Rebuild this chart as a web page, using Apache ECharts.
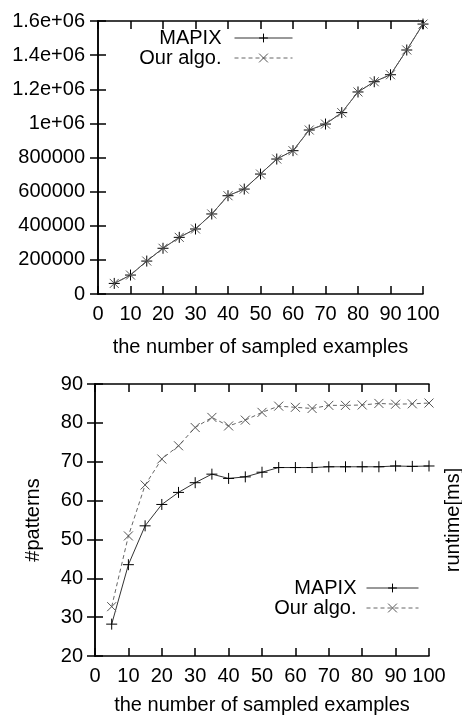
<!DOCTYPE html>
<html>
<head>
<meta charset="utf-8">
<script src="https://cdn.jsdelivr.net/npm/echarts@6/dist/echarts.min.js"></script>
<style>
html, body { margin: 0; padding: 0; background: #fff; }
#main { width: 462px; height: 715px; }
</style>
</head>
<body>
<div id="main"></div>
<script>
// sampled example counts (x axis)
var samples = [5, 10, 15, 20, 25, 30, 35, 40, 45, 50, 55, 60, 65, 70, 75, 80, 85, 90, 95, 100];

// top chart: runtime, both algorithms overlap
var mapixRuntime = [62000, 111000, 193000, 268000, 332000, 381000, 469000, 576000, 615000, 703000,
                    791000, 840000, 961000, 996000, 1063000, 1184000, 1244000, 1285000, 1430000, 1582000];
var ourRuntime   = [62000, 111000, 193000, 268000, 332000, 381000, 469000, 576000, 615000, 703000,
                    791000, 840000, 961000, 996000, 1063000, 1184000, 1244000, 1285000, 1430000, 1582000];

// bottom chart: #patterns
var mapixPatterns = [28.2, 43.5, 53.5, 59, 62.1, 64.6, 66.8, 65.7, 66.1, 67.3,
                     68.5, 68.5, 68.5, 68.7, 68.7, 68.7, 68.7, 68.9, 68.8, 68.9];
var ourPatterns   = [32.7, 50.9, 64, 70.7, 74.1, 78.8, 81.4, 79.2, 80.7, 82.7,
                     84.3, 84, 83.7, 84.5, 84.5, 84.6, 85, 84.8, 84.9, 85.1];

var runtimeTicks = ['0', '200000', '400000', '600000', '800000', '1e+06', '1.2e+06', '1.4e+06', '1.6e+06'];

var font = 'Liberation Sans, Arial, sans-serif';
var plusSym = 'path://M0,5L10,5M5,0L5,10';
var crossSym = 'path://M0,0L10,10M10,0L0,10';

function zip(xs, ys) {
  return xs.map(function (x, i) { return [x, ys[i]]; });
}

function xAxisPair(gridIndex, gap) {
  return [
    {
      gridIndex: gridIndex, type: 'value', min: 0, max: 100, interval: 10,
      name: 'the number of sampled examples', nameLocation: 'middle', nameGap: gap,
      nameTextStyle: { fontFamily: font, fontSize: 20, color: '#000' },
      axisLine: { onZero: false, lineStyle: { color: '#000', width: 1.5 } },
      axisTick: { inside: true, length: 8, lineStyle: { color: '#000', width: 1.5 } },
      axisLabel: { fontFamily: font, fontSize: 20, color: '#000', margin: 10 },
      splitLine: { show: false }
    },
    {
      gridIndex: gridIndex, type: 'value', position: 'top', min: 0, max: 100, interval: 10,
      axisLine: { onZero: false, lineStyle: { color: '#000', width: 1.5 } },
      axisTick: { inside: true, length: 8, lineStyle: { color: '#000', width: 1.5 } },
      axisLabel: { show: false },
      splitLine: { show: false }
    }
  ];
}

function legendAt(right, top, width, textGap) {
  return {
    data: ['MAPIX', 'Our algo.'],
    orient: 'vertical', align: 'right', padding: 0,
    right: right, top: top, itemGap: 0, itemWidth: width, itemHeight: 11,
    lineStyle: { width: 1 },
    itemStyle: { borderWidth: 1 },
    textStyle: { fontFamily: font, fontSize: 20, color: '#000', padding: [0, textGap, 0, 0] }
  };
}

var lineMapix = { color: '#333', width: 1 };
var lineOur = { color: '#666', width: 1, type: [4, 3] };

var option = {
  animation: false,
  backgroundColor: '#fff',
  grid: [
    { left: 98, top: 21, width: 325, height: 273, outerBoundsMode: 'none' },
    { left: 95, top: 384, width: 334, height: 272, outerBoundsMode: 'none' }
  ],
  legend: [
    legendAt(169, 28, 58, 8),
    legendAt(43, 578, 52, 5)
  ],
  xAxis: xAxisPair(0, 43).concat(xAxisPair(1, 39)),
  yAxis: [
    {
      gridIndex: 0, type: 'value', min: 0, max: 1600000, interval: 200000,
      axisLine: { show: true, lineStyle: { color: '#000', width: 1.5 } },
      axisTick: { show: true, inside: true, length: 8, lineStyle: { color: '#000', width: 1.5 } },
      axisLabel: {
        fontFamily: font, fontSize: 20, color: '#000', margin: 13,
        formatter: function (v) { return runtimeTicks[Math.round(v / 200000)]; }
      },
      splitLine: { show: false }
    },
    {
      gridIndex: 0, type: 'value', position: 'right', min: 0, max: 1600000, interval: 200000,
      axisLine: { show: true, lineStyle: { color: '#000', width: 1.5 } },
      axisTick: { show: true, inside: true, length: 8, lineStyle: { color: '#000', width: 1.5 } },
      axisLabel: { show: false },
      splitLine: { show: false }
    },
    {
      gridIndex: 1, type: 'value', min: 20, max: 90, interval: 10,
      name: '#patterns', nameLocation: 'middle', nameGap: 52, nameRotate: 90,
      nameTextStyle: { fontFamily: font, fontSize: 20, color: '#000' },
      axisLine: { show: true, lineStyle: { color: '#000', width: 1.5 } },
      axisTick: { show: true, inside: true, length: 8, lineStyle: { color: '#000', width: 1.5 } },
      axisLabel: { fontFamily: font, fontSize: 20, color: '#000', margin: 12 },
      splitLine: { show: false }
    },
    {
      gridIndex: 1, type: 'value', position: 'right', min: 20, max: 90, interval: 10,
      name: 'runtime[ms]', nameLocation: 'middle', nameGap: 14, nameRotate: 90,
      nameTextStyle: { fontFamily: font, fontSize: 20, color: '#000' },
      axisLine: { show: true, lineStyle: { color: '#000', width: 1.5 } },
      axisTick: { show: true, inside: true, length: 8, lineStyle: { color: '#000', width: 1.5 } },
      axisLabel: { show: false },
      splitLine: { show: false }
    }
  ],
  series: [
    {
      name: 'MAPIX', type: 'line', xAxisIndex: 0, yAxisIndex: 0,
      data: zip(samples, mapixRuntime),
      symbol: plusSym, symbolSize: 11,
      lineStyle: lineMapix,
      itemStyle: { color: '#000', borderColor: '#000', borderWidth: 1 }
    },
    {
      name: 'Our algo.', type: 'line', xAxisIndex: 0, yAxisIndex: 0,
      data: zip(samples, ourRuntime),
      symbol: crossSym, symbolSize: 9,
      lineStyle: lineOur,
      itemStyle: { color: '#555', borderColor: '#555', borderWidth: 1 }
    },
    {
      name: 'MAPIX', type: 'line', xAxisIndex: 2, yAxisIndex: 2,
      data: zip(samples, mapixPatterns),
      symbol: plusSym, symbolSize: 11,
      lineStyle: lineMapix,
      itemStyle: { color: '#000', borderColor: '#000', borderWidth: 1 }
    },
    {
      name: 'Our algo.', type: 'line', xAxisIndex: 2, yAxisIndex: 2,
      data: zip(samples, ourPatterns),
      symbol: crossSym, symbolSize: 9,
      lineStyle: lineOur,
      itemStyle: { color: '#555', borderColor: '#555', borderWidth: 1 }
    }
  ]
};

var chart = echarts.init(document.getElementById('main'), null, { renderer: 'canvas' });
chart.setOption(option);
</script>
</body>
</html>
